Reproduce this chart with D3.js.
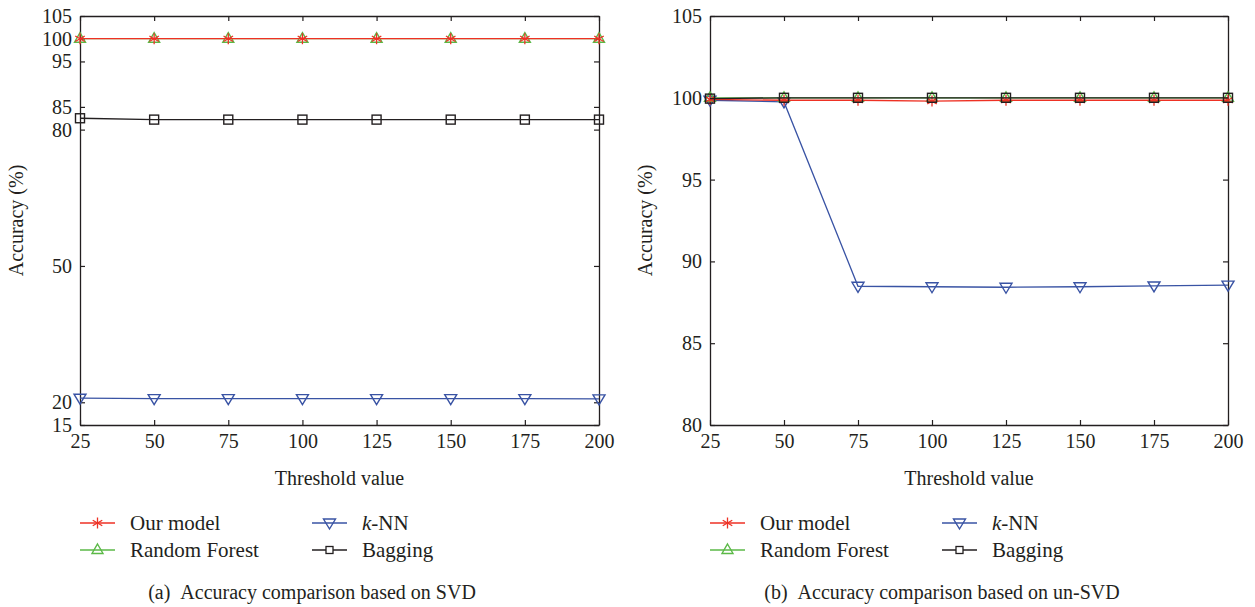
<!DOCTYPE html>
<html><head><meta charset="utf-8">
<script src="https://cdn.jsdelivr.net/npm/d3@7"></script>
<style>
body{margin:0;background:#fff;}
text{font-family:"Liberation Serif","DejaVu Serif",serif;fill:#231f20;}
</style></head><body>
<svg id="c" width="1255" height="607"></svg>
<script>
const thresholds = [25, 50, 75, 100, 125, 150, 175, 200];
const seriesNames = ["Our model", "Random Forest", "k-NN", "Bagging"];

// Panel (a): SVD
const svdOurModel = [100, 100, 100, 100, 100, 100, 100, 100];
const svdRandomForest = [100, 100, 100, 100, 100, 100, 100, 100];
const svdKnn = [20.9, 20.8, 20.8, 20.8, 20.8, 20.8, 20.8, 20.75];
const svdBagging = [82.5, 82.2, 82.2, 82.2, 82.2, 82.2, 82.2, 82.2];
const svdYTicks = [15, 20, 50, 80, 85, 95, 100, 105];

// Panel (b): un-SVD
const unOurModel = [99.9, 99.85, 99.85, 99.8, 99.85, 99.85, 99.85, 99.85];
const unRandomForest = [100, 100, 100, 100, 100, 100, 100, 100];
const unKnn = [99.85, 99.75, 88.48, 88.45, 88.42, 88.45, 88.5, 88.55];
const unBagging = [99.95, 100, 100, 100, 100, 100, 100, 100];
const unYTicks = [80, 85, 90, 95, 100, 105];

const captions = ["(a)\u00a0\u00a0Accuracy comparison based on SVD", "(b)\u00a0\u00a0Accuracy comparison based on un-SVD"];

const colors = {"Our model":"#ee3124","Random Forest":"#5bb947","k-NN":"#3953a4","Bagging":"#231f20"};
const FS = "20px";

const svg = d3.select("#c");

function marker(g, name, x, y){
  const c = colors[name];
  if(name==="Our model"){
    const r=5.5;
    for(let a=0;a<3;a++){
      const ang=a*Math.PI/3+Math.PI/2;
      g.append("line").attr("x1",x-r*Math.cos(ang)).attr("y1",y-r*Math.sin(ang))
       .attr("x2",x+r*Math.cos(ang)).attr("y2",y+r*Math.sin(ang)).attr("stroke",c).attr("stroke-width",1.3);
    }
  } else if(name==="Random Forest"){
    g.append("path").attr("d",`M${x},${y-6}L${x+5.5},${y+3.5}L${x-5.5},${y+3.5}Z`).attr("fill","none").attr("stroke",c).attr("stroke-width",1.4);
  } else if(name==="k-NN"){
    g.append("path").attr("d",`M${x},${y+6}L${x+6},${y-4}L${x-6},${y-4}Z`).attr("fill","none").attr("stroke",c).attr("stroke-width",1.4);
  } else {
    g.append("rect").attr("x",x-4.5).attr("y",y-4.5).attr("width",9).attr("height",9).attr("fill","none").attr("stroke",c).attr("stroke-width",1.4);
  }
}

function panel(opts){
  const {x0,x1,y0,y1,yDomain,yTicks,series,order,legendX,caption,captionX} = opts;
  const g = svg.append("g");
  const x = d3.scaleLinear().domain([25,200]).range([x0,x1]);
  const y = d3.scaleLinear().domain(yDomain).range([y1,y0]);
  const ax = g.append("g").attr("transform",`translate(0,${y1})`)
    .call(d3.axisBottom(x).tickValues(thresholds).tickSizeInner(-5).tickSizeOuter(0).tickPadding(9));
  const axT = g.append("g").attr("transform",`translate(0,${y0})`)
    .call(d3.axisTop(x).tickValues(thresholds).tickSizeInner(-5).tickSizeOuter(0).tickFormat(""));
  const ay = g.append("g").attr("transform",`translate(${x0},0)`)
    .call(d3.axisLeft(y).tickValues(yTicks).tickSizeInner(-5).tickSizeOuter(0).tickPadding(8));
  const ayR = g.append("g").attr("transform",`translate(${x1},0)`)
    .call(d3.axisRight(y).tickValues(yTicks).tickSizeInner(-5).tickSizeOuter(0).tickFormat(""));
  [ax,axT,ay,ayR].forEach(a=>{
    a.attr("font-family",null).attr("font-size",null);
    a.select(".domain").attr("stroke","#231f20").attr("stroke-width",1.3);
    a.selectAll(".tick line").attr("stroke","#231f20").attr("stroke-width",1.2);
    a.selectAll(".tick text").style("font-size",FS).attr("fill","#231f20");
  });
  g.append("text").attr("x",(x0+x1)/2).attr("y",y1+60).attr("text-anchor","middle").style("font-size",FS).text("Threshold value");
  g.append("text").attr("transform",`translate(${x0-opts.ytitleOff},${(y0+y1)/2}) rotate(-90)`).attr("text-anchor","middle").style("font-size",FS).text("Accuracy (%)");
  const line = d3.line().x((d,i)=>x(thresholds[i])).y(d=>y(d));
  order.forEach(name=>{
    const vals = series[name];
    g.append("path").datum(vals).attr("d",line).attr("fill","none").attr("stroke",colors[name]).attr("stroke-width",1.3);
    vals.forEach((v,i)=>marker(g,name,x(thresholds[i]),y(v)));
  });
  const legItems=[["Our model",0,0],["Random Forest",0,1],["k-NN",1,0],["Bagging",1,1]];
  legItems.forEach(([name,col,row])=>{
    const lx = legendX + col*232, ly = 523 + row*27;
    g.append("line").attr("x1",lx).attr("x2",lx+35).attr("y1",ly).attr("y2",ly).attr("stroke",colors[name]).attr("stroke-width",1.3);
    if(name==="Bagging"){
      g.append("rect").attr("x",lx+17.5-3.5).attr("y",ly-3.5).attr("width",7).attr("height",7).attr("fill","#fff").attr("stroke",colors[name]).attr("stroke-width",1.3);
    } else marker(g,name,lx+17.5,ly);
    const t = g.append("text").attr("x",lx+50).attr("y",ly+7).style("font-size","21px");
    if(name==="k-NN"){ t.append("tspan").style("font-style","italic").text("k"); t.append("tspan").text("-NN"); }
    else t.text(name);
  });
  g.append("text").attr("x",captionX).attr("y",599).attr("text-anchor","middle").style("font-size",FS).text(caption);
}

panel({x0:80,x1:599,y0:16,y1:425,yDomain:[15,105],yTicks:svdYTicks,
  series:{"Our model":svdOurModel,"Random Forest":svdRandomForest,"k-NN":svdKnn,"Bagging":svdBagging},
  order:["k-NN","Bagging","Random Forest","Our model"],legendX:80,caption:captions[0],captionX:312,ytitleOff:57});
panel({x0:710,x1:1228,y0:16,y1:425,yDomain:[80,105],yTicks:unYTicks,
  series:{"Our model":unOurModel,"Random Forest":unRandomForest,"k-NN":unKnn,"Bagging":unBagging},
  order:["k-NN","Random Forest","Our model","Bagging"],legendX:710,caption:captions[1],captionX:942,ytitleOff:58});
</script>
</body></html>
